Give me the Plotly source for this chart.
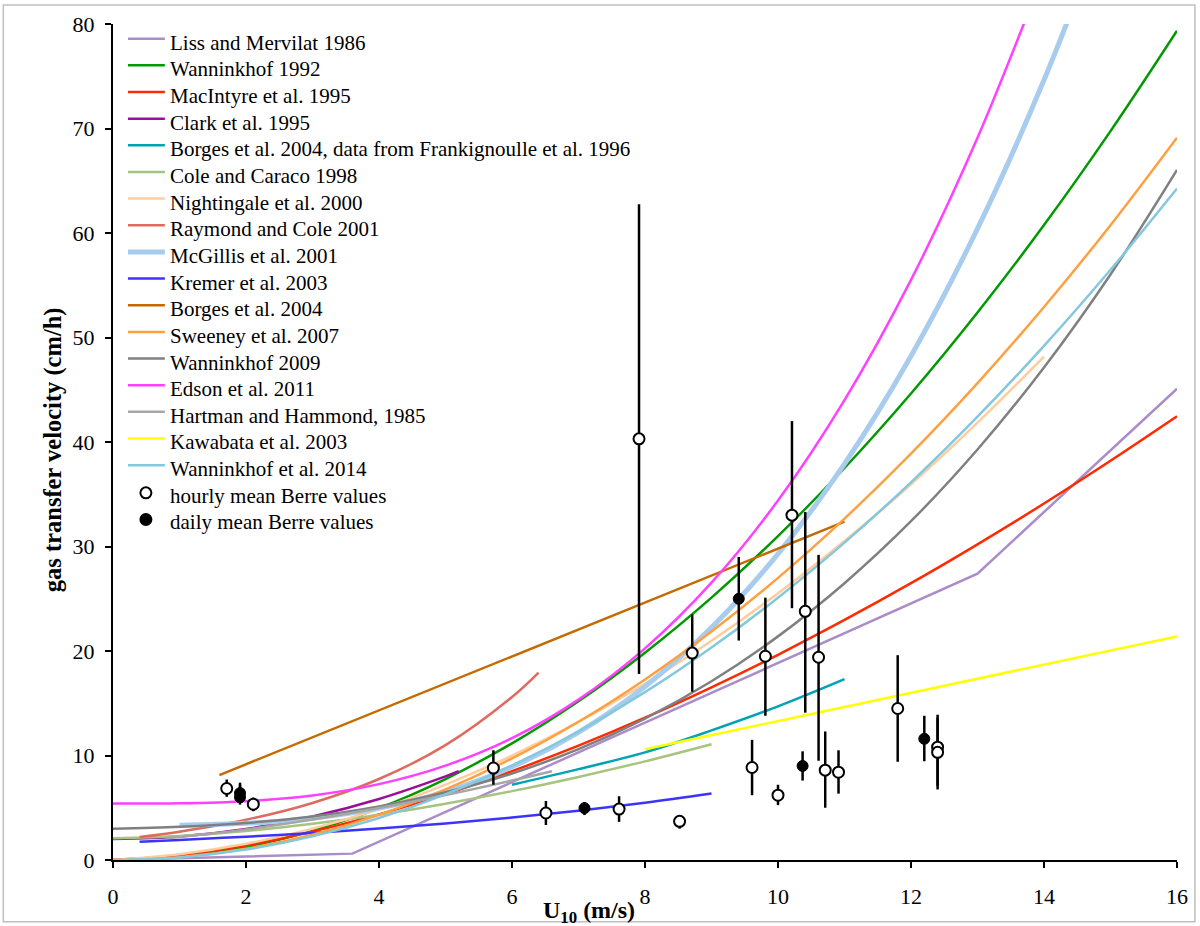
import plotly.graph_objects as go

# ---------------- curve data ----------------
liss_u = [0, 3.6, 13, 16]
liss_k = [0, 0.61, 27.4, 45.1]

wann92_u = [0, 1, 2, 3, 4, 5, 6, 7, 8, 9, 10, 11, 12, 13, 14, 15, 16]
wann92_k = [0, 0.31, 1.24, 2.79, 4.96, 7.75, 11.16, 15.19, 19.84, 25.11, 31.0, 37.51, 44.64, 52.39, 60.76, 69.75, 79.36]

macint_u = [0, 1, 2, 3, 4, 5, 6, 7, 8, 9, 10, 11, 12, 13, 14, 15, 16]
macint_k = [0, 0.45, 1.40, 2.73, 4.37, 6.30, 8.50, 10.94, 13.62, 16.53, 19.64, 22.97, 26.49, 30.21, 34.11, 38.20, 42.46]

clark_u = [0, 1, 2, 3, 4, 5, 5.2]
clark_k = [2.0, 2.24, 2.96, 4.16, 5.84, 8.0, 8.49]

frank_u = [6, 7, 8, 9, 10, 11]
frank_k = [7.2, 8.7, 10.3, 12.4, 14.7, 17.3]

cole_u = [0, 1, 2, 3, 4, 5, 6, 7, 8, 9]
cole_k = [2.07, 2.29, 2.77, 3.46, 4.34, 5.39, 6.59, 7.95, 9.44, 11.08]

night_u = [0, 1, 2, 3, 4, 5, 6, 7, 8, 9, 10, 11, 12, 13, 14]
night_k = [0, 0.56, 1.55, 3.0, 4.88, 7.22, 9.99, 13.21, 16.87, 20.98, 25.53, 30.53, 35.96, 41.85, 48.17]

raymond_u = [0.4, 1, 2, 3, 4, 5, 6, 6.4]
raymond_k = [2.20, 2.71, 3.85, 5.46, 7.75, 10.99, 15.60, 17.94]

mcgillis_u = [1, 2, 3, 4, 5, 6, 7, 8, 9, 10, 11, 12, 13, 14, 15]
mcgillis_k = [3.33, 3.51, 4.0, 4.96, 6.55, 8.92, 12.22, 16.61, 22.25, 29.3, 37.91, 48.23, 60.42, 74.64, 91.05]

kremer_u = [0.4, 1, 2, 3, 4, 5, 6, 7, 8, 9]
kremer_k = [1.75, 1.92, 2.23, 2.59, 3.01, 3.49, 4.06, 4.72, 5.48, 6.36]

borges_u = [1.6, 11]
borges_k = [8.13, 32.38]

sweeney_u = [0, 1, 2, 3, 4, 5, 6, 7, 8, 9, 10, 11, 12, 13, 14, 15, 16]
sweeney_k = [0, 0.27, 1.08, 2.43, 4.32, 6.75, 9.72, 13.23, 17.28, 21.87, 27.0, 32.67, 38.88, 45.63, 52.92, 60.75, 69.12]

wann09_u = [0, 1, 2, 3, 4, 5, 6, 7, 8, 9, 10, 11, 12, 13, 14, 15, 16]
wann09_k = [3.0, 3.18, 3.54, 4.17, 5.13, 6.48, 8.28, 10.61, 13.53, 17.10, 21.4, 26.49, 32.42, 39.28, 47.13, 56.03, 66.04]

edson_u = [0, 1, 2, 3, 4, 5, 6, 7, 8, 9, 10, 11, 12, 13, 14]
edson_k = [5.4, 5.43, 5.63, 6.18, 7.26, 9.03, 11.66, 15.35, 20.25, 26.54, 34.4, 44.0, 55.51, 69.11, 84.98]

hartman_u = [0.8, 1, 2, 3, 4, 5, 6, 6.6]
hartman_k = [2.1, 2.21, 2.93, 3.87, 4.97, 6.22, 7.61, 8.5]

kawabata_u = [8, 16]
kawabata_k = [10.6, 21.4]

wann14_u = [0, 1, 2, 3, 4, 5, 6, 7, 8, 9, 10, 11, 12, 13, 14, 15, 16]
wann14_k = [0, 0.25, 1.0, 2.26, 4.02, 6.28, 9.04, 12.3, 16.06, 20.33, 25.1, 30.37, 36.14, 42.42, 49.2, 56.48, 64.26]

# ---------------- Berre observations ----------------
hourly_u = [1.71, 2.11, 5.72, 6.51, 7.61, 7.91, 8.52, 8.71, 9.61, 9.81, 10.0, 10.21, 10.41, 10.61, 10.71, 10.91, 11.8, 12.4, 12.4]
hourly_k = [6.84, 5.34, 8.8, 4.5, 4.87, 40.3, 3.7, 19.8, 8.85, 19.5, 6.2, 33.0, 23.8, 19.4, 8.6, 8.4, 14.5, 10.8, 10.3]
hourly_hi = [7.7, 5.98, 10.5, 5.65, 6.1, 62.75, 4.2, 23.5, 11.5, 25.1, 7.2, 42.0, 33.3, 29.2, 12.3, 10.5, 19.6, 13.9, 13.6]
hourly_lo = [6.05, 4.67, 7.2, 3.35, 3.65, 17.8, 3.0, 16.1, 6.2, 13.8, 5.25, 24.1, 14.1, 9.5, 5.0, 6.35, 9.4, 7.1, 6.75]

daily_u = [1.91, 1.91, 7.09, 9.41, 10.37, 12.2]
daily_k = [6.4, 6.0, 4.96, 25.0, 9.0, 11.6]
daily_hi = [7.4, 7.2, 5.55, 29.0, 10.4, 13.8]
daily_lo = [5.6, 5.3, 4.3, 21.0, 7.6, 9.45]

FONT = "Liberation Serif, Times New Roman, serif"

curves = [
    ("Liss and Mervilat 1986", liss_u, liss_k, "#A98CC8", 2.5, "linear"),
    ("Wanninkhof 1992", wann92_u, wann92_k, "#009A00", 2.5, "spline"),
    ("MacIntyre et al. 1995", macint_u, macint_k, "#FF2A00", 2.5, "spline"),
    ("Clark et al. 1995", clark_u, clark_k, "#990F99", 2.5, "spline"),
    ("Borges et al. 2004, data from Frankignoulle et al. 1996", frank_u, frank_k, "#00A3B5", 2.5, "spline"),
    ("Cole and Caraco 1998", cole_u, cole_k, "#A7C47F", 2.5, "spline"),
    ("Nightingale et al. 2000", night_u, night_k, "#FFCC9E", 2.5, "spline"),
    ("Raymond and Cole 2001", raymond_u, raymond_k, "#DE6A60", 2.5, "spline"),
    ("McGillis et al. 2001", mcgillis_u, mcgillis_k, "#A8CCEE", 5, "spline"),
    ("Kremer et al. 2003", kremer_u, kremer_k, "#3D33FF", 2.5, "spline"),
    ("Borges et al. 2004", borges_u, borges_k, "#C46A00", 2.5, "linear"),
    ("Sweeney et al. 2007", sweeney_u, sweeney_k, "#FFA040", 2.5, "spline"),
    ("Wanninkhof 2009", wann09_u, wann09_k, "#808080", 2.5, "spline"),
    ("Edson et al. 2011", edson_u, edson_k, "#FF40FF", 2.5, "spline"),
    ("Hartman and Hammond, 1985", hartman_u, hartman_k, "#A6A6A6", 2.5, "spline"),
    ("Kawabata et al. 2003", kawabata_u, kawabata_k, "#FFFF00", 2.5, "linear"),
    ("Wanninkhof et al. 2014", wann14_u, wann14_k, "#84C8DE", 2.5, "spline"),
]
HOURLY_NAME = "hourly mean Berre values"
DAILY_NAME = "daily mean Berre values"

# plot-area geometry in pixels (used for the hand-built legend)
L, R, T, B = 113, 1180, 22, 860


def px(xp):
    return (xp - L) / (R - L)


def py(yp):
    return (B - yp) / (B - T)


fig = go.Figure()
for name, u, k, col, w, shape in curves:
    fig.add_trace(go.Scatter(x=u, y=k, mode="lines", name=name, showlegend=False,
                             line=dict(color=col, width=w, shape=shape)))


def errs(vals, hi, lo):
    return [h - v for h, v in zip(hi, vals)], [v - l for v, l in zip(vals, lo)]


h_plus, h_minus = errs(hourly_k, hourly_hi, hourly_lo)
d_plus, d_minus = errs(daily_k, daily_hi, daily_lo)

fig.add_trace(go.Scatter(
    x=hourly_u, y=hourly_k, mode="markers", name=HOURLY_NAME, showlegend=False,
    marker=dict(symbol="circle", size=11, color="white", line=dict(color="black", width=2)),
    error_y=dict(type="data", symmetric=False, array=h_plus, arrayminus=h_minus,
                 color="black", thickness=2.5, width=0)))
fig.add_trace(go.Scatter(
    x=daily_u, y=daily_k, mode="markers", name=DAILY_NAME, showlegend=False,
    marker=dict(symbol="circle", size=11, color="black", line=dict(color="black", width=1)),
    error_y=dict(type="data", symmetric=False, array=d_plus, arrayminus=d_minus,
                 color="black", thickness=2.5, width=0)))

# ---------------- hand-built legend (tight line spacing like the original) ----------------
annotations = []
shapes = []
LEG_Y0, LEG_DY = 40.7, 26.72
LINE_X0, LINE_X1, TEXT_X, MARK_X = 128, 165, 168, 146
entries = [(c[0], c[3], c[4]) for c in curves] + [(HOURLY_NAME, "open", 0), (DAILY_NAME, "filled", 0)]
for i, (name, col, w) in enumerate(entries):
    yc = LEG_Y0 + i * LEG_DY
    annotations.append(dict(text=name, xref="paper", yref="paper", x=px(TEXT_X), y=py(yc),
                            xanchor="left", yanchor="middle", showarrow=False,
                            font=dict(family=FONT, size=21, color="black")))
    if col in ("open", "filled"):
        shapes.append(dict(type="circle", xref="paper", yref="paper",
                           xsizemode="pixel", ysizemode="pixel",
                           xanchor=px(MARK_X), yanchor=py(yc - 3),
                           x0=-5.5, x1=5.5, y0=-5.5, y1=5.5,
                           line=dict(color="black", width=2),
                           fillcolor="white" if col == "open" else "black"))
    else:
        shapes.append(dict(type="line", xref="paper", yref="paper",
                           x0=px(LINE_X0), x1=px(LINE_X1), y0=py(yc - 4), y1=py(yc - 4),
                           line=dict(color=col, width=w)))

annotations += [
    dict(text="<b>U<sub>10</sub> (m/s)</b>", xref="paper", yref="paper",
         x=px(590), y=py(912), xanchor="center", yanchor="middle", showarrow=False,
         font=dict(family=FONT, size=24, color="black")),
    dict(text="<b>gas transfer velocity (cm/h)</b>", xref="paper", yref="paper",
         x=px(53), y=py(449), xanchor="center", yanchor="middle", showarrow=False, textangle=-90,
         font=dict(family=FONT, size=24.5, color="black")),
]
shapes.append(dict(type="rect", xref="paper", yref="paper",
                   x0=px(3), x1=px(1198), y0=py(922), y1=py(3),
                   line=dict(color="#BFBFBF", width=1.5), fillcolor="rgba(0,0,0,0)", layer="below"))

fig.update_layout(
    width=1200, height=926,
    margin=dict(l=L, r=1200 - R, t=T, b=926 - B),
    paper_bgcolor="white", plot_bgcolor="white",
    font=dict(family=FONT, color="black", size=22),
    showlegend=False,
    xaxis=dict(range=[0, 16], tickvals=[0, 2, 4, 6, 8, 10, 12, 14, 16],
               showgrid=False, zeroline=False, showline=True, linecolor="black", linewidth=2,
               ticks="outside", ticklen=6, tickwidth=2, tickcolor="black",
               tickfont=dict(family=FONT, size=22), ticklabelstandoff=10),
    yaxis=dict(range=[0, 80], tickvals=[0, 10, 20, 30, 40, 50, 60, 70, 80],
               showgrid=False, zeroline=False, showline=True, linecolor="black", linewidth=2,
               ticks="outside", ticklen=6, tickwidth=2, tickcolor="black",
               tickfont=dict(family=FONT, size=22), ticklabelstandoff=6),
    annotations=annotations,
    shapes=shapes,
)

fig.write_html("out.html", config={"displayModeBar": False},
               post_script="document.body.style.margin='0px';document.body.style.overflow='hidden';")
